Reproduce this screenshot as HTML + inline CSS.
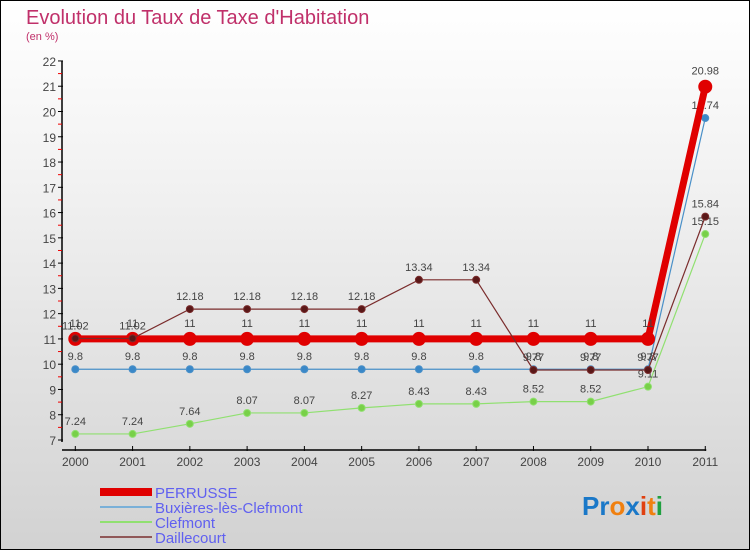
<!DOCTYPE html>
<html><head><meta charset="utf-8"><style>
body{margin:0}
#c{width:750px;height:550px;position:relative;box-sizing:border-box;border:1px solid #000;background:linear-gradient(#fff,#f3f3f3 30%,#d2d2d2);font-family:"Liberation Sans",sans-serif;overflow:hidden}
</style></head><body>
<div id="c">
<svg id="s" width="750" height="550" style="position:absolute;left:-1px;top:-1px">
<text x="26" y="24" font-size="20" fill="#c0306a">Evolution du Taux de Taxe d'Habitation</text>
<text x="26" y="40" font-size="11" fill="#c0306a">(en %)</text>
</svg>
</div>
<script>
const years=["2000","2001","2002","2003","2004","2005","2006","2007","2008","2009","2010","2011"];
const yTicks=[7,8,9,10,11,12,13,14,15,16,17,18,19,20,21,22];
const perrusse=[11,11,11,11,11,11,11,11,11,11,11,20.98];
const buxieres=[9.8,9.8,9.8,9.8,9.8,9.8,9.8,9.8,9.8,9.8,9.8,19.74];
const clefmont=[7.24,7.24,7.64,8.07,8.07,8.27,8.43,8.43,8.52,8.52,9.11,15.15];
const daillecourt=[11.02,11.02,12.18,12.18,12.18,12.18,13.34,13.34,9.77,9.77,9.77,15.84];
const s=document.getElementById('s'),NS='http://www.w3.org/2000/svg';
function X(i){return 75.3+i*57.27}
function Y(v){return 440-(v-7)*25.27}
function el(t,a,txt){const e=document.createElementNS(NS,t);for(const k in a)e.setAttribute(k,a[k]);if(txt!==undefined)e.textContent=txt;s.appendChild(e);return e}
let ax=el('line',{x1:62,y1:Y(22),x2:62,y2:Y(7)+2,stroke:'#000','stroke-width':1.5});


let bx=el('line',{x1:62,y1:450,x2:X(11)+1,y2:450,stroke:'#000','stroke-width':1.5});


yTicks.forEach(v=>{
 el('line',{x1:58,y1:Y(v),x2:63,y2:Y(v),stroke:'#000'});
 if(v<22)el('line',{x1:58,y1:Y(v+0.5),x2:62,y2:Y(v+0.5),stroke:'#e00'});
 let t=el('text',{x:56,y:Y(v)+5,'text-anchor':'end','font-size':12,fill:'#444'},v);
 
 
});
years.forEach((y,i)=>{
 el('line',{x1:X(i),y1:446,x2:X(i),y2:451,stroke:'#000'});
 let t=el('text',{x:X(i),y:466,'text-anchor':'middle','font-size':12,fill:'#444'},y);
 
 
});
function series(d,color,w,r,dot,name,lab){
 let p=el('polyline',{points:d.map((v,i)=>X(i)+','+Y(v)).join(' '),fill:'none',stroke:color,'stroke-width':w});
 
 
 d.forEach((v,i)=>{
  let c=el('circle',{cx:X(i),cy:Y(v),r:r,fill:dot,stroke:color,'stroke-width':1});
  
  
  let t=el('text',{x:X(i),y:Y(v)-(lab||9),'text-anchor':'middle','font-size':11,fill:'#444'},String(v));
  
  
 });
}
series(buxieres,'#4a90c8',1.2,3.5,'#3a88c8','buxieres');
series(clefmont,'#90e070',1.2,3.5,'#78d048','clefmont');
series(perrusse,'#e00000',7,6.5,'#e00000','perrusse',12);
series(daillecourt,'#7a2c2c',1.2,3.5,'#5a1818','daillecourt');
const leg=[['PERRUSSE','#e00000',8],['Buxières-lès-Clefmont','#7ab0d8',2],['Clefmont','#90e070',2],['Daillecourt','#905858',2]];
leg.forEach((l,i)=>{
 let y=492+i*15;
 let ln=el('line',{x1:100,y1:y,x2:152,y2:y,stroke:l[1],'stroke-width':l[2]});
 
 
 let t=el('text',{x:155,y:y+6,'font-size':15,fill:'#6060f0'},l[0]);
 
 
});
let g=el('text',{x:582,y:515,'font-size':26,'font-weight':'bold','font-family':'Liberation Sans, sans-serif'},'');


[['P','#1a78c8'],['r','#1a78c8'],['o','#f08010'],['x','#1a78c8'],['i','#e04010'],['t','#f08010'],['i','#20a040']].forEach(c=>{const ts=document.createElementNS(NS,'tspan');ts.setAttribute('fill',c[1]);ts.textContent=c[0];g.appendChild(ts)});
</script>
</body></html>
